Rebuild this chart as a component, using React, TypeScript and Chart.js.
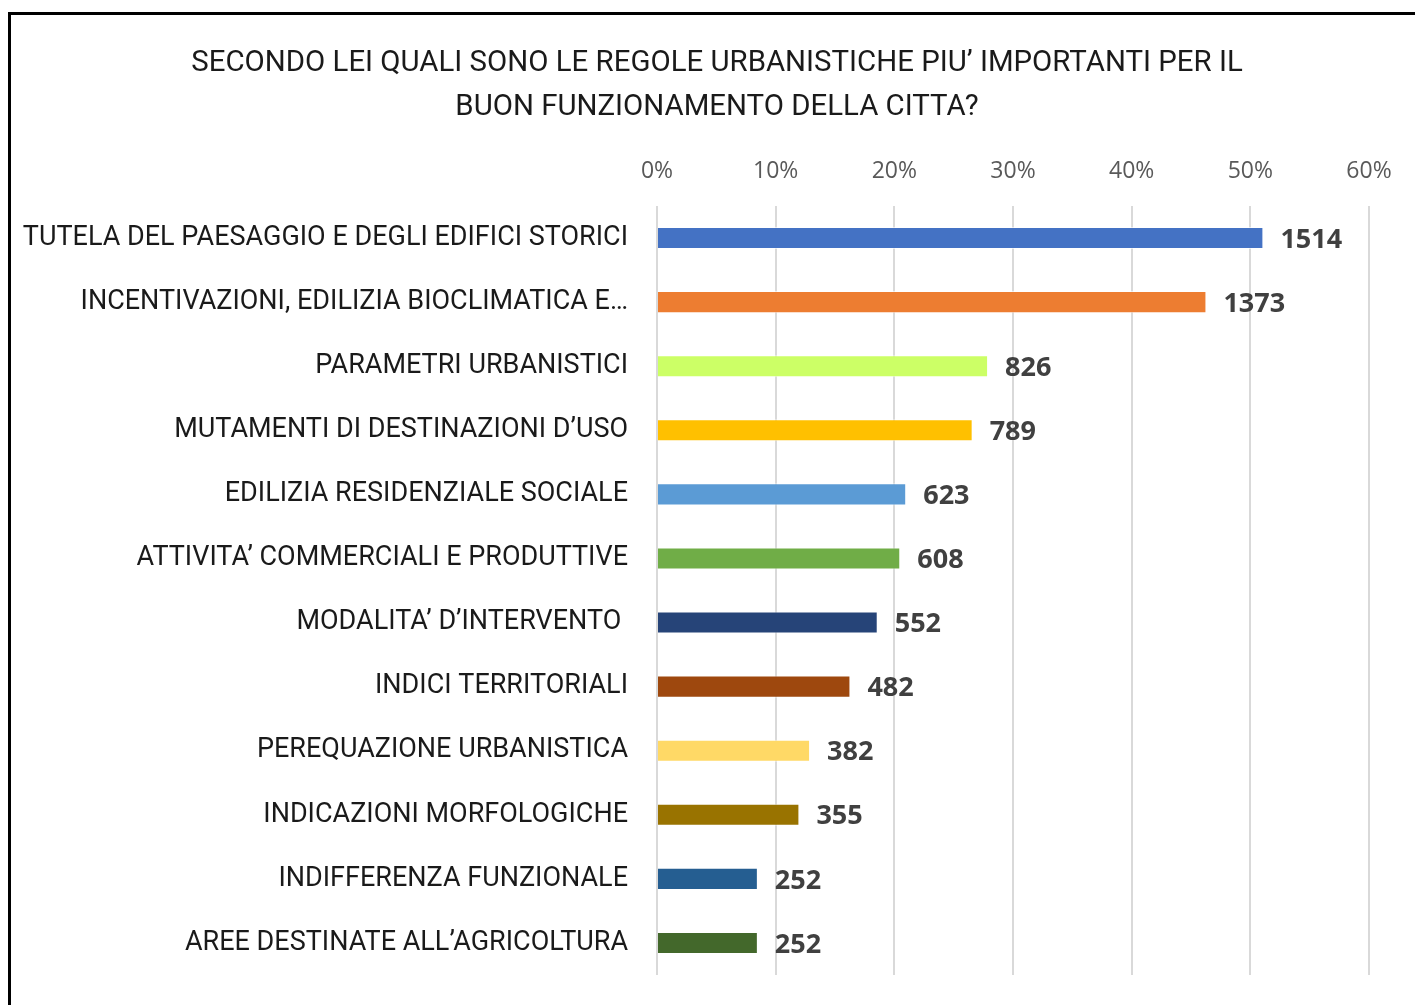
import React, { useEffect, useRef } from "react";
import { Chart, registerables } from "chart.js";

Chart.register(...registerables);

const titleLines = [
  "SECONDO LEI QUALI SONO LE REGOLE URBANISTICHE PIU\u2019 IMPORTANTI PER IL",
  "BUON FUNZIONAMENTO DELLA CITTA?",
];

const categories = [
  "TUTELA DEL PAESAGGIO E DEGLI EDIFICI STORICI",
  "INCENTIVAZIONI, EDILIZIA BIOCLIMATICA E\u2026",
  "PARAMETRI URBANISTICI",
  "MUTAMENTI DI DESTINAZIONI D\u2019USO",
  "EDILIZIA RESIDENZIALE SOCIALE",
  "ATTIVITA\u2019 COMMERCIALI E PRODUTTIVE",
  "MODALITA\u2019 D\u2019INTERVENTO ",
  "INDICI TERRITORIALI",
  "PEREQUAZIONE URBANISTICA",
  "INDICAZIONI MORFOLOGICHE",
  "INDIFFERENZA FUNZIONALE",
  "AREE DESTINATE ALL\u2019AGRICOLTURA",
];

const percentages = [51.1, 46.3, 27.9, 26.6, 21.0, 20.5, 18.6, 16.3, 12.9, 12.0, 8.5, 8.5];

const counts = [1514, 1373, 826, 789, 623, 608, 552, 482, 382, 355, 252, 252];

const barColors = [
  "#4472C4",
  "#ED7D31",
  "#CCFF66",
  "#FFC000",
  "#5B9BD5",
  "#70AD47",
  "#264478",
  "#9E480E",
  "#FFD966",
  "#997300",
  "#255E91",
  "#43682B",
];

const xTicks = [0, 10, 20, 30, 40, 50, 60];

const LABEL_FONT = "Roboto, 'Open Sans', sans-serif";
const NUM_FONT = "'Open Sans', sans-serif";

export default function App() {
  const ref = useRef<HTMLCanvasElement | null>(null);

  useEffect(() => {
    if (!ref.current) return;

    const titlePlugin = {
      id: "customTitle",
      afterDraw(chart: any) {
        const ctx = chart.ctx;
        ctx.save();
        ctx.fillStyle = "#1a1a1a";
        ctx.font = `29.4px ${LABEL_FONT}`;
        ctx.textAlign = "center";
        ctx.textBaseline = "middle";
        const cx = 706;
        ctx.fillText(titleLines[0], cx, 49);
        ctx.fillText(titleLines[1], cx, 93);
        ctx.restore();
      },
    };

    const valueLabels = {
      id: "valueLabels",
      afterDatasetsDraw(chart: any) {
        const ctx = chart.ctx;
        const meta = chart.getDatasetMeta(0);
        ctx.save();
        ctx.fillStyle = "#404040";
        ctx.font = `bold 27px ${NUM_FONT}`;
        ctx.textAlign = "left";
        ctx.textBaseline = "middle";
        meta.data.forEach((bar: any, i: number) => {
          ctx.fillText(String(counts[i]), bar.x + 17, bar.y + 2);
        });
        ctx.restore();
      },
    };

    const chart = new Chart(ref.current, {
      type: "bar",
      data: {
        labels: categories,
        datasets: [
          {
            data: percentages,
            backgroundColor: barColors,
            borderColor: "rgba(255,255,255,0.6)",
            borderWidth: 1,
            barPercentage: 0.69,
            categoryPercentage: 0.5,
          },
        ],
      },
      options: {
        indexAxis: "y",
        animation: false,
        responsive: false,
        maintainAspectRatio: false,
        layout: { padding: { left: 0, right: 57, top: 0, bottom: 30 } },
        plugins: {
          legend: { display: false },
          title: { display: false },
          tooltip: { enabled: false },
        },
        scales: {
          x: {
            position: "top",
            min: 0,
            max: 60,
            afterFit(scale: any) {
              scale.height = 191;
            },
            afterBuildTicks(scale: any) {
              scale.ticks = xTicks.map((v) => ({ value: v }));
            },
            ticks: {
              padding: 21,
              color: "#595959",
              font: { family: NUM_FONT, size: 23 },
              callback: (v: any) => `${v}%`,
              maxRotation: 0,
            },
            grid: {
              color: "#d9d9d9",
              lineWidth: 2,
              drawTicks: false,
            },
            border: { display: false },
          },
          y: {
            afterFit(scale: any) {
              scale.width = 646;
              scale.paddingTop = 0;
              scale.paddingBottom = 0;
            },
            ticks: {
              padding: 29,
              color: "#1a1a1a",
              font: { family: LABEL_FONT, size: 27 },
              autoSkip: false,
            },
            grid: { display: false, drawTicks: false },
            border: { display: false },
          },
        },
      },
      plugins: [titlePlugin, valueLabels],
    });

    return () => chart.destroy();
  }, []);

  return (
    <div
      style={{
        position: "fixed",
        left: 0,
        top: 0,
        width: 1415,
        height: 1005,
        overflow: "hidden",
        background: "#ffffff",
      }}
    >
      <div
        style={{
          position: "absolute",
          left: 8,
          top: 12,
          width: 1430,
          height: 1010,
          borderLeft: "3px solid #000",
          borderTop: "3px solid #000",
          background: "#ffffff",
        }}
      >
        <canvas ref={ref} width={1415} height={990} style={{ display: "block" }} />
      </div>
    </div>
  );
}
